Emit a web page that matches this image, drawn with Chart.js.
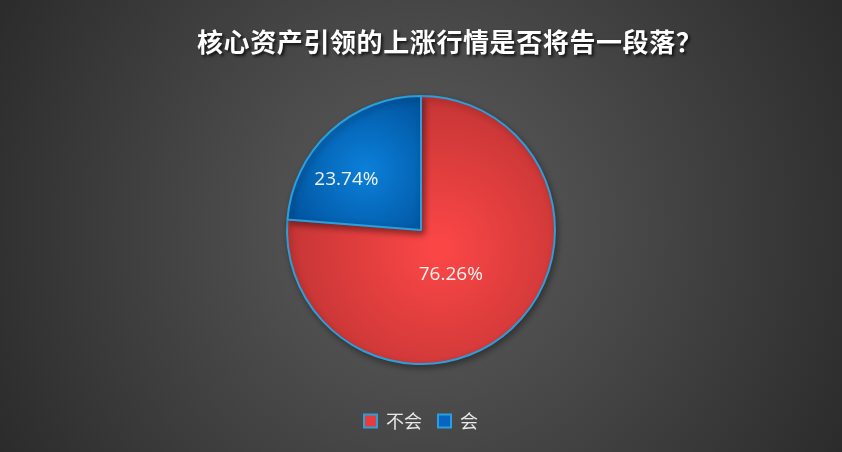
<!DOCTYPE html>
<html>
<head>
<meta charset="utf-8">
<script src="https://cdn.jsdelivr.net/npm/chart.js@4/dist/chart.umd.min.js"></script>
<style>
html,body{margin:0;padding:0;background:#3a3a3a;}
#wrap{width:842px;height:452px;position:relative;}
</style>
</head>
<body>
<div id="wrap"><canvas id="c"></canvas></div>
<script>
const titleText = '核心资产引领的上涨行情是否将告一段落？';
const categories = ['不会', '会'];
const values = [76.26, 23.74];
const labelTexts = ['76.26%', '23.74%'];
const flatColors = ['#e83c3c', '#0565c0'];
const innerColors = ['#fd4747', '#0b80da'];
const outerColors = ['#c53535', '#004f98'];
const borderCol = '#2a9fdc';
const borderW = 2;

function pieGeom(chart){
  const a = chart.chartArea;
  const cx = (a.left + a.right) / 2, cy = (a.top + a.bottom) / 2;
  const r = (Math.min(a.right - a.left, a.bottom - a.top) - borderW) / 2;
  return {cx, cy, r};
}
function sliceInfo(idx){
  const total = values.reduce((s, v) => s + v, 0);
  let start = 0;
  for (let i = 0; i < idx; i++) start += values[i];
  const span = 2 * Math.PI * values[idx] / total;
  const mid = -Math.PI / 2 + 2 * Math.PI * start / total + span / 2;
  return {span, mid};
}
function sliceGradient(ctx){
  const chart = ctx.chart;
  if (!chart.chartArea) return flatColors[ctx.dataIndex];
  const {cx, cy, r} = pieGeom(chart);
  const {span, mid} = sliceInfo(ctx.dataIndex);
  const d = (4 * r * Math.sin(span / 2)) / (3 * span);
  const gx = cx + d * Math.cos(mid), gy = cy + d * Math.sin(mid);
  const gr = ctx.dataIndex === 0 ? r * 1.15 : r * 0.72;
  const g = chart.ctx.createRadialGradient(gx, gy, 0, gx, gy, gr);
  g.addColorStop(0, innerColors[ctx.dataIndex]);
  g.addColorStop(1, outerColors[ctx.dataIndex]);
  return g;
}

const bgPlugin = {
  id: 'bg',
  beforeDraw(chart){
    const c = chart.ctx, w = chart.width, h = chart.height;
    const g = c.createRadialGradient(w/2, h*0.5, 0, w/2, h*0.5, w*0.58);
    g.addColorStop(0, '#5e5e5e');
    g.addColorStop(1, '#2a2a2a');
    c.save(); c.fillStyle = g; c.fillRect(0, 0, w, h); c.restore();
  }
};
const titlePlugin = {
  id: 'customTitle',
  afterDraw(chart){
    const c = chart.ctx;
    c.save();
    c.font = 'bold 26px "Noto Sans CJK SC", sans-serif';
    try { c.letterSpacing = '0.6px'; } catch (e) {}
    c.textAlign = 'left'; c.textBaseline = 'middle';
    c.shadowColor = 'rgba(0,0,0,0.75)'; c.shadowOffsetX = 2; c.shadowOffsetY = 2; c.shadowBlur = 3;
    c.fillStyle = '#ffffff';
    c.fillText(titleText, 197, 42);
    c.restore();
  }
};
const shadowPlugin = {
  id: 'pieShadow',
  beforeDatasetsDraw(chart){
    const c = chart.ctx; c.save();
    c.shadowColor = 'rgba(0,0,0,0.35)'; c.shadowOffsetX = 2; c.shadowOffsetY = 3; c.shadowBlur = 6;
  },
  afterDatasetsDraw(chart){
    chart.ctx.restore();
    const c = chart.ctx;
    const meta = chart.getDatasetMeta(0);
    const fr = [0.40, 0.67];
    const angOff = [0.157, -0.234];
    c.save();
    c.font = '19px "Open Sans", sans-serif';
    c.fillStyle = '#f2f2f2'; c.textAlign = 'center'; c.textBaseline = 'middle';
    meta.data.forEach((arc, i) => {
      const mid = (arc.startAngle + arc.endAngle) / 2 + angOff[i];
      const x = arc.x + Math.cos(mid) * arc.outerRadius * fr[i];
      const y = arc.y + Math.sin(mid) * arc.outerRadius * fr[i];
      c.fillText(labelTexts[i], x, y);
    });
    c.restore();
  }
};

new Chart(document.getElementById('c'), {
  type: 'pie',
  data: {
    labels: categories,
    datasets: [{
      data: values,
      backgroundColor: sliceGradient,
      borderColor: borderCol,
      borderWidth: borderW,
      borderAlign: 'center'
    }]
  },
  options: {
    responsive: true,
    maintainAspectRatio: false,
    animation: false,
    layout: {padding: {top: 64, bottom: 12, left: 286, right: 286}},
    plugins: {
      title: {display: false},
      tooltip: {enabled: false},
      legend: {
        position: 'bottom',
        labels: {
          color: '#e8e8e8',
          font: {size: 18, family: '"Noto Sans CJK SC", sans-serif'},
          boxWidth: 13, boxHeight: 13, padding: 16,
          generateLabels(chart){
            return categories.map((name, i) => ({
              text: name, fillStyle: flatColors[i], strokeStyle: borderCol,
              lineWidth: 2, fontColor: '#e8e8e8', index: i, hidden: false
            }));
          }
        }
      }
    }
  },
  plugins: [bgPlugin, shadowPlugin, titlePlugin]
});
</script>
</body>
</html>
